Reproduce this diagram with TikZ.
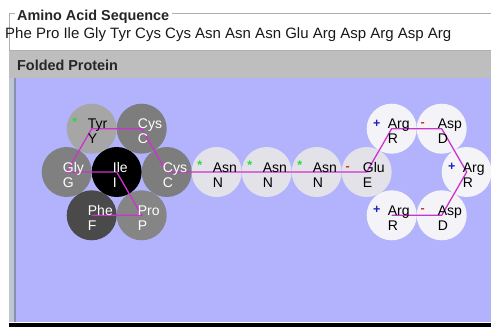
\documentclass[tikz,border=0pt]{standalone}
\usepackage{fontspec}
\setmainfont{Liberation Sans}
\usetikzlibrary{calc}
\definecolor{panel}{RGB}{179,179,253}
\definecolor{band}{RGB}{190,190,190}
\definecolor{bord}{RGB}{175,175,175}
\definecolor{stripL}{RGB}{190,198,212}
\definecolor{stripD}{RGB}{136,144,176}
\definecolor{link}{RGB}{204,51,204}
\definecolor{cTyr}{RGB}{166,166,166}
\definecolor{cCys}{RGB}{125,125,125}
\definecolor{cGly}{RGB}{128,128,128}
\definecolor{cPhe}{RGB}{74,74,74}
\definecolor{cPro}{RGB}{133,133,133}
\definecolor{cPol}{RGB}{226,226,232}
\definecolor{cChg}{RGB}{244,244,248}
\definecolor{mGreen}{RGB}{40,220,60}
\definecolor{mBlue}{RGB}{30,30,190}
\definecolor{mRed}{RGB}{210,50,50}
\newcommand\putlabel[4]{% node, colour, name, letter
  \node[nm,text=#2] (#1n) at ($(#1)+(-4,0)$) {#3};
  \node[nm,text=#2] (#1l) at ($(#1)+(-4,15)$) {#4};}
\begin{document}
\begin{tikzpicture}[x=1pt,y=-1pt,
  res/.style={circle,inner sep=0pt,minimum size=50pt,draw=none},
  nm/.style={anchor=base west,inner sep=0pt,font=\fontsize{14}{16}\selectfont},
  mk/.style={anchor=center,inner sep=0pt,font=\bfseries\fontsize{12.5}{14}\selectfont},
  linkline/.style={draw=link,line width=1.3pt,line join=miter}]
\useasboundingbox (0,0) rectangle (491,327);
\fill[white] (0,0) rectangle (491,327);
% sequence box
\draw[bord,line width=0.8pt] (15,13) -- (9,13) -- (9,50) -- (491,50);
\draw[bord,line width=0.8pt] (172,13) -- (491,13);
\node[anchor=base west,inner sep=0pt,font=\bfseries\fontsize{14.4}{16}\selectfont,text=black!85] (seqtitle) at (17,20) {Amino Acid Sequence};
\node[anchor=base west,inner sep=0pt,font=\fontsize{15}{17}\selectfont,text=black!90] (seq) at (5,38) {Phe Pro Ile Gly Tyr Cys Cys Asn Asn Asn Glu Arg Asp Arg Asp Arg};
% folded protein panel
\fill[band] (9,51) rectangle (491,78);
\node[anchor=base west,inner sep=0pt,font=\bfseries\fontsize{14.4}{16}\selectfont,text=black!85] (foldtitle) at (17,70) {Folded Protein};
\fill[stripL] (9,78) rectangle (14,322);
\fill[stripD] (14,78) rectangle (16,322);
\fill[panel] (16,78) rectangle (491,322);
\fill[black] (9,323) rectangle (491,327);
% residues
\node[res,fill=cPhe] (phe) at (91.7,215.3) {};
\node[res,fill=cPro] (pro) at (141.7,215.3) {};
\node[res,fill=black] (ile) at (116.7,172) {};
\node[res,fill=cGly] (gly) at (66.7,172) {};
\node[res,fill=cTyr] (tyr) at (91.7,128.7) {};
\node[res,fill=cCys] (cysa) at (141.7,128.7) {};
\node[res,fill=cCys] (cysb) at (166.7,172) {};
\node[res,fill=cPol] (asna) at (216.7,172) {};
\node[res,fill=cPol] (asnb) at (266.7,172) {};
\node[res,fill=cPol] (asnc) at (316.7,172) {};
\node[res,fill=cPol] (glu) at (366.7,172) {};
\node[res,fill=cChg] (arga) at (391.7,128.7) {};
\node[res,fill=cChg] (aspa) at (441.7,128.7) {};
\node[res,fill=cChg] (argb) at (466.7,172) {};
\node[res,fill=cChg] (aspb) at (441.7,215.3) {};
\node[res,fill=cChg] (argc) at (391.7,215.3) {};
% chain
\draw[linkline] (phe.center) -- (pro.center) -- (ile.center) -- (gly.center) -- (tyr.center) -- (cysa.center) -- (cysb.center) -- (asna.center) -- (asnb.center) -- (asnc.center) -- (glu.center) -- (arga.center) -- (aspa.center) -- (argb.center) -- (aspb.center) -- (argc.center);
% labels
\putlabel{phe}{white}{Phe}{F}
\putlabel{pro}{white}{Pro}{P}
\putlabel{ile}{white}{Ile}{I}
\putlabel{gly}{white}{Gly}{G}
\putlabel{tyr}{black}{Tyr}{Y}
\putlabel{cysa}{white}{Cys}{C}
\putlabel{cysb}{white}{Cys}{C}
\putlabel{asna}{black}{Asn}{N}
\putlabel{asnb}{black}{Asn}{N}
\putlabel{asnc}{black}{Asn}{N}
\putlabel{glu}{black}{Glu}{E}
\putlabel{arga}{black}{Arg}{R}
\putlabel{aspa}{black}{Asp}{D}
\putlabel{argb}{black}{Arg}{R}
\putlabel{aspb}{black}{Asp}{D}
\putlabel{argc}{black}{Arg}{R}
% charge / polarity marks
\node[mk,text=mGreen] (tyrm) at ($(tyr)+(-17,-7)$) {*};
\node[mk,text=mGreen] (asnam) at ($(asna)+(-17,-7)$) {*};
\node[mk,text=mGreen] (asnbm) at ($(asnb)+(-17,-7)$) {*};
\node[mk,text=mGreen] (asncm) at ($(asnc)+(-17,-7)$) {*};
\node[mk,text=mRed] (glum) at ($(glu)+(-19,-3)$) {-};
\node[mk,text=mBlue] (argam) at ($(arga)+(-15,-5)$) {+};
\node[mk,text=mRed] (aspam) at ($(aspa)+(-19,-4.5)$) {-};
\node[mk,text=mBlue] (argbm) at ($(argb)+(-15,-5)$) {+};
\node[mk,text=mRed] (aspbm) at ($(aspb)+(-19,-4.5)$) {-};
\node[mk,text=mBlue] (argcm) at ($(argc)+(-15,-5)$) {+};
\end{tikzpicture}
\end{document}
